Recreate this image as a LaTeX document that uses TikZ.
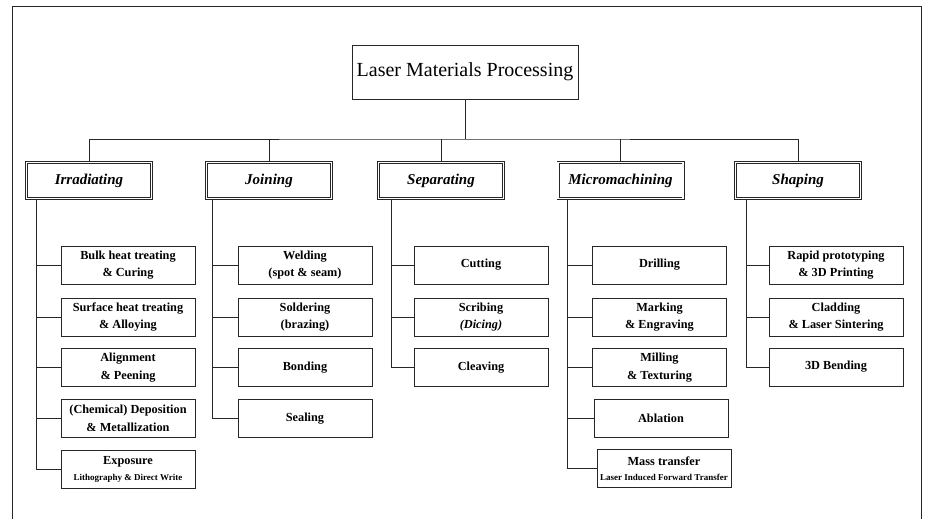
\documentclass[tikz,border=0pt]{standalone}
\usepackage{fontspec}
\setmainfont{Liberation Serif}
\newcommand\subtxt{\fontsize{9}{10}\selectfont}
\begin{document}
\begin{tikzpicture}[x=1pt,y=-1pt,
  conn/.style={draw=black!85, line width=0.9pt},
  leaf/.style={draw=black!85, line width=0.9pt, minimum width=134pt, minimum height=38pt,
    inner sep=0pt, align=center, font=\fontsize{12.3}{17.5}\selectfont\bfseries},
  cat/.style={draw=black!85, double, double distance=1.6pt, line width=0.7pt,
    minimum width=125pt, minimum height=36pt, inner sep=0pt,
    font=\fontsize{15}{17}\selectfont\bfseries\itshape},
  titlebox/.style={draw=black!85, line width=0.8pt, minimum width=226pt, minimum height=54pt,
    inner sep=0pt, font=\fontsize{20}{22}\selectfont}
]
\useasboundingbox (0,0) rectangle (927,519);
% outer frame
\draw[conn] (12,519) -- (12,6) -- (921,6) -- (921,519);

% title
\node[titlebox] (title) at (465,72) {Laser Materials Processing};
\coordinate (bar) at (465,139);

% categories
\node[cat] (c1) at (89,180.5) {Irradiating};
\node[cat] (c2) at (269,180.5) {Joining};
\node[cat] (c3) at (441,180.5) {Separating};
\node[cat] (c4) at (620.5,180.5) {Micromachining};
\node[cat] (c5) at (798,180.5) {Shaping};

\draw[conn] (title.south) -- (bar);
\draw[conn] (c1.north) |- (bar) -| (c5.north);
\draw[conn] (c2.north) -- (c2.north |- bar);
\draw[conn] (c3.north) -- (c3.north |- bar);
\draw[conn] (c4.north) -- (c4.north |- bar);

% trunk tops
\coordinate (t1) at (36,200);
\coordinate (t2) at (212,200);
\coordinate (t3) at (391,200);
\coordinate (t4) at (567,200);
\coordinate (t5) at (746,200);

% column 1
\node[leaf] (l11) at (128,265) {Bulk heat treating\\\& Curing};
\node[leaf] (l12) at (128,317) {Surface heat treating\\\& Alloying};
\node[leaf] (l13) at (128,367.5) {Alignment\\\& Peening};
\node[leaf] (l14) at (128,418.5) {(Chemical) Deposition\\\& Metallization};
\node[leaf] (l15) at (128,469.5) {Exposure\\[-2pt]{\subtxt Lithography \& Direct Write}};

% column 2
\node[leaf] (l21) at (305,265) {Welding\\(spot \& seam)};
\node[leaf] (l22) at (305,317) {Soldering\\(brazing)};
\node[leaf] (l23) at (305,367.5) {Bonding};
\node[leaf] (l24) at (305,418.5) {Sealing};

% column 3
\node[leaf] (l31) at (481,265) {Cutting};
\node[leaf] (l32) at (481,317) {Scribing\\\textit{(Dicing)}};
\node[leaf] (l33) at (481,367.5) {Cleaving};

% column 4
\node[leaf] (l41) at (659.5,265) {Drilling};
\node[leaf] (l42) at (659.5,317) {Marking\\\& Engraving};
\node[leaf] (l43) at (659.5,367.5) {Milling\\\& Texturing};
\node[leaf] (l44) at (661,418) {Ablation};
\node[leaf] (l45) at (664,468.5) {Mass transfer\\[-2pt]{\subtxt Laser Induced Forward Transfer}};

% column 5
\node[leaf] (l51) at (836,265) {Rapid prototyping\\\& 3D Printing};
\node[leaf] (l52) at (836,317) {Cladding\\\& Laser Sintering};
\node[leaf] (l53) at (836,367) {3D Bending};

% trunks and branches
\draw[conn] (t1) |- (l15.west);
\foreach \n in {l11,l12,l13,l14} \draw[conn] (\n.west) -- (\n.west -| t1);
\draw[conn] (t2) |- (l24.west);
\foreach \n in {l21,l22,l23} \draw[conn] (\n.west) -- (\n.west -| t2);
\draw[conn] (t3) |- (l33.west);
\foreach \n in {l31,l32} \draw[conn] (\n.west) -- (\n.west -| t3);
\draw[conn] (t4) |- (l45.west);
\foreach \n in {l41,l42,l43,l44} \draw[conn] (\n.west) -- (\n.west -| t4);
\draw[conn] (t5) |- (l53.west);
\foreach \n in {l51,l52} \draw[conn] (\n.west) -- (\n.west -| t5);
\end{tikzpicture}
\end{document}
